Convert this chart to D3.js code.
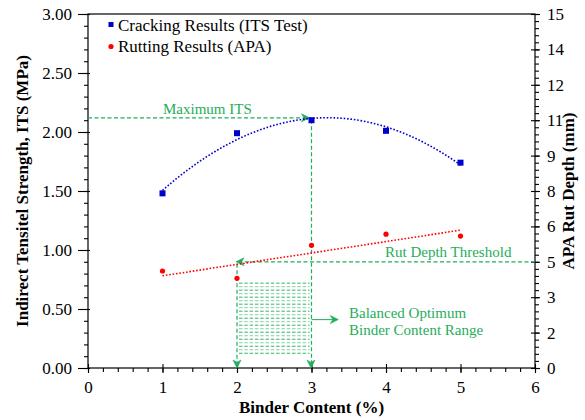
<!DOCTYPE html>
<html>
<head>
<meta charset="utf-8">
<script src="https://cdn.jsdelivr.net/npm/d3@7"></script>
<style>
  html, body { margin: 0; padding: 0; background: #fff; }
  svg { display: block; }
  svg text { font-family: "Liberation Serif", "Times New Roman", serif; }
</style>
</head>
<body>
<svg id="chart" width="585" height="420"></svg>
<script>
// Binder content (%) tested
const binderContent = [1, 2, 3, 4, 5];
// Indirect tensile strength, MPa
const itsValues = [1.48, 1.99, 2.10, 2.01, 1.74];
// APA rut depth, mm
const rutValues = [4.11, 3.80, 5.20, 5.67, 5.59];

const xTickValues = [0, 1, 2, 3, 4, 5, 6];
const leftTickValues = [0, 0.5, 1.0, 1.5, 2.0, 2.5, 3.0];
const leftTickLabels = ["0.00", "0.50", "1.00", "1.50", "2.00", "2.50", "3.00"];
const rightTickValues = [0, 1.5, 3, 4.5, 6, 7.5, 9, 10.5, 12, 13.5, 15];
const rightTickLabels = ["0", "2", "3", "5", "6", "8", "9", "11", "12", "14", "15"];

const seriesNames = ["Cracking Results (ITS Test)", "Rutting Results (APA)"];

// Annotation values
const maxITS = 2.12;          // peak of ITS trend
const rutThreshold = 4.5;     // rut depth limit, mm
const optimumRange = [2, 3];  // balanced binder content range, %

const FONT = "Liberation Serif, Times New Roman, serif";
const FS = 17;       // axis, title and legend text size
const NOTE_FS = 15;  // annotation text size
const green = "#1fae5a";
const blue = "#0000cc";
const red = "#ff0000";

const svg = d3.select("#chart");
const M = { left: 88, right: 535, top: 14, bottom: 368 };

const x = d3.scaleLinear().domain([0, 6]).range([M.left, M.right]);
const yL = d3.scaleLinear().domain([0, 3]).range([M.bottom, M.top]);
const yR = d3.scaleLinear().domain([0, 15]).range([M.bottom, M.top]);

// ---- least squares fits ----
function linearFit(xs, ys) {
  const n = xs.length, mx = d3.mean(xs), my = d3.mean(ys);
  let sxy = 0, sxx = 0;
  for (let i = 0; i < n; i++) { sxy += (xs[i] - mx) * (ys[i] - my); sxx += (xs[i] - mx) ** 2; }
  const b = sxy / sxx;
  return v => my + b * (v - mx);
}
function quadFit(xs, ys) {
  // normal equations for y = a + b x + c x^2
  const S = k => d3.sum(xs, v => v ** k);
  const T = k => d3.sum(xs.map((v, i) => ys[i] * v ** k));
  const A = [[S(0), S(1), S(2)], [S(1), S(2), S(3)], [S(2), S(3), S(4)]];
  const B = [T(0), T(1), T(2)];
  for (let i = 0; i < 3; i++) {
    for (let j = i + 1; j < 3; j++) {
      const f = A[j][i] / A[i][i];
      for (let k = i; k < 3; k++) A[j][k] -= f * A[i][k];
      B[j] -= f * B[i];
    }
  }
  const c = [0, 0, 0];
  for (let i = 2; i >= 0; i--) {
    let s = B[i];
    for (let k = i + 1; k < 3; k++) s -= A[i][k] * c[k];
    c[i] = s / A[i][i];
  }
  return v => c[0] + c[1] * v + c[2] * v * v;
}

// ---- frame ----
svg.append("rect")
  .attr("x", M.left).attr("y", M.top)
  .attr("width", M.right - M.left).attr("height", M.bottom - M.top)
  .attr("fill", "none").attr("stroke", "#000").attr("stroke-width", 1.2);

// ---- axes ----
function styleAxis(g) {
  g.attr("font-family", FONT).attr("font-size", FS);
  g.select(".domain").remove();
  g.selectAll("line").attr("stroke", "#000").attr("stroke-width", 1.1);
  g.selectAll("text").attr("fill", "#000").attr("font-family", FONT).attr("font-size", FS);
}
const range = (a, b, s) => d3.range(Math.round((b - a) / s) + 1).map(i => +(a + i * s).toFixed(4));

// bottom
svg.append("g").attr("transform", `translate(0,${M.bottom})`)
  .call(d3.axisBottom(x).tickValues(range(0, 6, 0.2)).tickFormat("").tickSizeInner(4).tickSizeOuter(0))
  .call(styleAxis);
const gx = svg.append("g").attr("transform", `translate(0,${M.bottom})`)
  .call(d3.axisBottom(x).tickValues(xTickValues).tickFormat(d3.format("d")).tickSizeInner(5).tickSizeOuter(0).tickPadding(8))
  .call(styleAxis);
gx.selectAll(".tick line").attr("y1", -4);

// left
svg.append("g").attr("transform", `translate(${M.left},0)`)
  .call(d3.axisLeft(yL).tickValues(range(0, 3, 0.1)).tickFormat("").tickSizeInner(4).tickSizeOuter(0))
  .call(styleAxis);
const gl = svg.append("g").attr("transform", `translate(${M.left},0)`)
  .call(d3.axisLeft(yL).tickValues(leftTickValues).tickFormat((d, i) => leftTickLabels[i]).tickSizeInner(10).tickSizeOuter(0).tickPadding(6))
  .call(styleAxis);
gl.selectAll(".tick line").attr("x1", 2);

// right
svg.append("g").attr("transform", `translate(${M.right},0)`)
  .call(d3.axisRight(yR).tickValues(range(0, 15, 0.3)).tickFormat("").tickSizeInner(4).tickSizeOuter(0))
  .call(styleAxis);
const gr = svg.append("g").attr("transform", `translate(${M.right},0)`)
  .call(d3.axisRight(yR).tickValues(rightTickValues).tickFormat((d, i) => rightTickLabels[i]).tickSizeInner(5).tickSizeOuter(0).tickPadding(7))
  .call(styleAxis);
gr.selectAll(".tick line").attr("x1", -4);

// axis titles
const titleStyle = sel => sel.attr("text-anchor", "middle").attr("font-weight", "bold")
  .attr("font-size", FS).attr("font-family", FONT).attr("fill", "#000");
svg.append("text").call(titleStyle)
  .attr("transform", `translate(28,${(M.top + M.bottom) / 2}) rotate(-90)`)
  .text("Indirect Tensitel Strength, ITS (MPa)");
svg.append("text").call(titleStyle)
  .attr("transform", `translate(574,${(M.top + M.bottom) / 2}) rotate(-90)`)
  .text("APA Rut Depth (mm)");
svg.append("text").call(titleStyle)
  .attr("x", (M.left + M.right) / 2).attr("y", 413)
  .text("Binder Content (%)");

// ---- arrowheads ----
function arrowHead(px, py, angleDeg) {
  svg.append("path")
    .attr("d", "M0,0 L-8,-4 L-5.5,0 L-8,4 Z")
    .attr("transform", `translate(${px},${py}) rotate(${angleDeg})`)
    .attr("fill", green).attr("stroke", green).attr("stroke-width", 0.6);
}
const dashed = sel => sel.attr("stroke", green).attr("stroke-width", 1.2)
  .attr("stroke-dasharray", "4,2.5").attr("fill", "none");

// hatching for the optimum range
const hatchRows = d3.range(21).map(i => 0.125 + i * 0.0297);
svg.append("g").selectAll("line").data(hatchRows).join("line")
  .attr("x1", x(optimumRange[0]) + 2).attr("x2", x(optimumRange[1]) - 2)
  .attr("y1", d => yL(d)).attr("y2", d => yL(d))
  .attr("stroke", green).attr("stroke-width", 1)
  .attr("stroke-dasharray", "3.5,1.8")
  .attr("opacity", (d, i) => i % 2 ? 0.55 : 0.9);

// Maximum ITS guide
svg.append("line").call(dashed)
  .attr("x1", M.left).attr("x2", x(optimumRange[1]) - 4)
  .attr("y1", yL(maxITS)).attr("y2", yL(maxITS));
arrowHead(x(optimumRange[1]) - 2, yL(maxITS), 0);
svg.append("line").call(dashed)
  .attr("x1", x(optimumRange[1])).attr("x2", x(optimumRange[1]))
  .attr("y1", yL(maxITS) + 2).attr("y2", M.bottom - 3);
arrowHead(x(optimumRange[1]) - 0.5, M.bottom, 90);

// Rut depth threshold guide
svg.append("line").call(dashed)
  .attr("x1", M.right).attr("x2", x(optimumRange[0]) + 4)
  .attr("y1", yR(rutThreshold)).attr("y2", yR(rutThreshold));
arrowHead(x(optimumRange[0]) - 1, yR(rutThreshold), 180);
svg.append("line").call(dashed)
  .attr("x1", x(optimumRange[0])).attr("x2", x(optimumRange[0]))
  .attr("y1", yR(rutThreshold) + 2).attr("y2", M.bottom - 3);
arrowHead(x(optimumRange[0]), M.bottom, 90);

// range pointer
const pointerY = 0.41;
svg.append("line")
  .attr("x1", x(optimumRange[1])).attr("x2", x(3.33))
  .attr("y1", yL(pointerY)).attr("y2", yL(pointerY))
  .attr("stroke", green).attr("stroke-width", 1);
arrowHead(x(3.36), yL(pointerY), 0);

// annotation texts
const noteStyle = sel => sel.attr("fill", green).attr("font-size", NOTE_FS).attr("font-family", FONT);
svg.append("text").call(noteStyle).attr("x", 163).attr("y", yL(maxITS) - 4).text("Maximum ITS");
svg.append("text").call(noteStyle).attr("x", 385).attr("y", yR(rutThreshold) - 5).text("Rut Depth Threshold");
svg.append("text").call(noteStyle).attr("x", 349).attr("y", 318).text("Balanced Optimum");
svg.append("text").call(noteStyle).attr("x", 349).attr("y", 335).text("Binder Content Range");

// ---- trendlines ----
const itsFit = quadFit(binderContent, itsValues);
const rutFit = linearFit(binderContent, rutValues);
const xs = d3.range(1, 5.001, 0.05);

svg.append("path")
  .datum(xs)
  .attr("d", d3.line().x(d => x(d)).y(d => yL(itsFit(d))))
  .attr("fill", "none").attr("stroke", blue).attr("stroke-width", 1.6)
  .attr("stroke-dasharray", "1.6,1.8");
svg.append("path")
  .datum([1, 5])
  .attr("d", d3.line().x(d => x(d)).y(d => yR(rutFit(d))))
  .attr("fill", "none").attr("stroke", red).attr("stroke-width", 1.6)
  .attr("stroke-dasharray", "1.6,1.8");

// ---- markers ----
svg.append("g").selectAll("rect").data(binderContent).join("rect")
  .attr("x", (d) => x(d) - 3).attr("y", (d, i) => yL(itsValues[i]) - 3)
  .attr("width", 6).attr("height", 6).attr("fill", blue);
svg.append("g").selectAll("circle").data(binderContent).join("circle")
  .attr("cx", d => x(d)).attr("cy", (d, i) => yR(rutValues[i]))
  .attr("r", 2.6).attr("fill", red);

// ---- legend ----
const legend = svg.append("g").attr("font-family", FONT).attr("font-size", FS);
legend.append("rect").attr("x", 108.5).attr("y", 22).attr("width", 5).attr("height", 5).attr("fill", blue);
legend.append("circle").attr("cx", 111).attr("cy", 46.5).attr("r", 2.6).attr("fill", red);
legend.append("text").attr("x", 118).attr("y", 30.5).attr("font-family", FONT).attr("font-size", FS).text(seriesNames[0]);
legend.append("text").attr("x", 118).attr("y", 52).attr("font-family", FONT).attr("font-size", FS).text(seriesNames[1]);
</script>
</body>
</html>
